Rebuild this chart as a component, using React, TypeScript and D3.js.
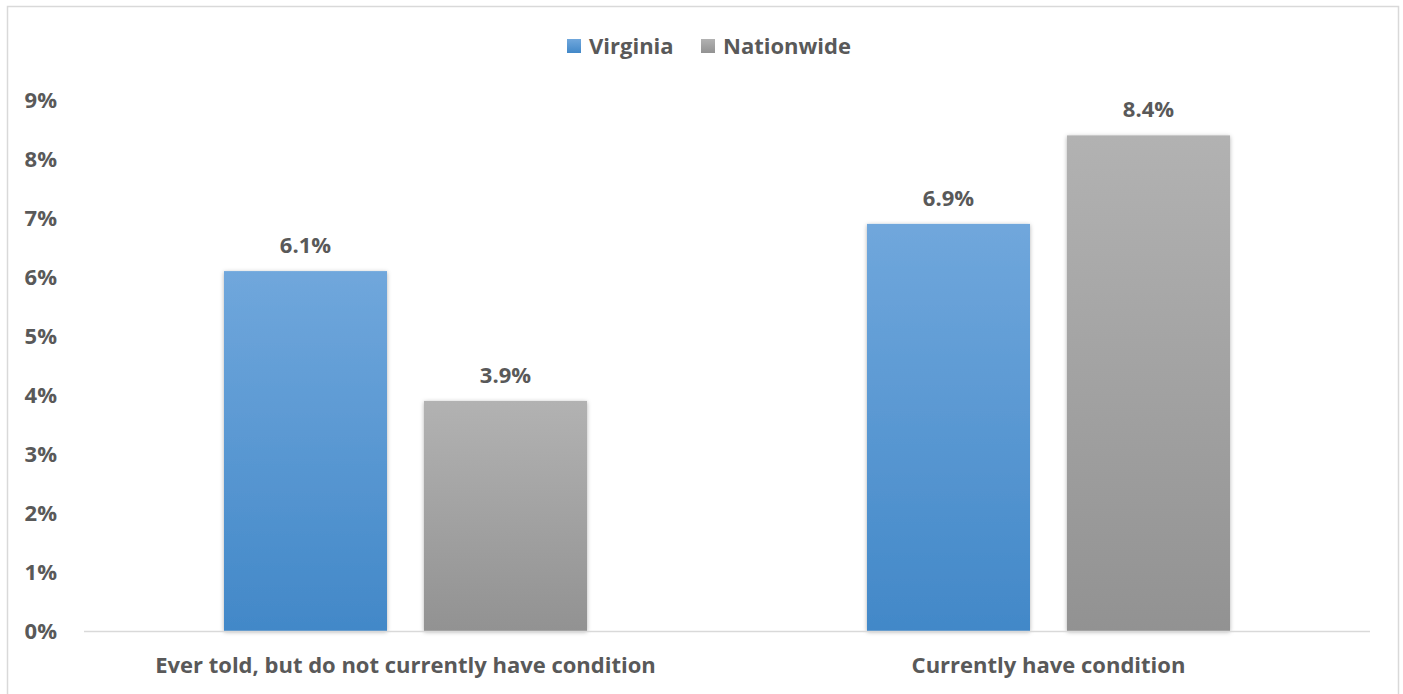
import React from "react";
import * as d3 from "d3";

const categories = ["Ever told, but do not currently have condition", "Currently have condition"];
const seriesNames = ["Virginia", "Nationwide"];
const virginia = [6.1, 6.9];
const nationwide = [3.9, 8.4];
const yTicks = [0, 1, 2, 3, 4, 5, 6, 7, 8, 9];

const W = 1403;
const H = 694;
const FONT = "'Open Sans', Lato, sans-serif";
const TEXT = "#595959";
const FS = 22;

export default function App() {
  const left = 84;
  const right = 1370;
  const top = 100;
  const bottom = 631;
  const x0 = d3.scaleBand<string>().domain(categories).range([left, right]).paddingInner(0).paddingOuter(0);
  const y = d3.scaleLinear().domain([0, 9]).range([bottom, top]);
  const groupW = 363;
  const x1 = d3.scaleBand<string>().domain(seriesNames).range([0, groupW]).paddingInner(37 / 200).paddingOuter(0);
  const values = [virginia, nationwide];
  const grads = ["gVa", "gNa"];

  return (
    <div style={{ position: "absolute", left: 0, top: 0 }}>
      <svg width={W} height={H} style={{ display: "block", background: "#fff" }}>
        <defs>
          <linearGradient id="gVa" x1="0" y1="0" x2="0" y2="1">
            <stop offset="0%" stopColor="#70a7dc" />
            <stop offset="100%" stopColor="#4288c8" />
          </linearGradient>
          <linearGradient id="gNa" x1="0" y1="0" x2="0" y2="1">
            <stop offset="0%" stopColor="#b2b2b2" />
            <stop offset="100%" stopColor="#929292" />
          </linearGradient>
          <filter id="sh" x="-10%" y="-10%" width="120%" height="120%">
            <feDropShadow dx="0" dy="1" stdDeviation="2" floodColor="#000" floodOpacity="0.3" />
          </filter>
        </defs>
        <rect x={7.5} y={6.5} width={1391} height={700} fill="#fff" stroke="#d9d9d9" strokeWidth={1.5} />

        {/* legend */}
        <g fontFamily={FONT} fontWeight={700} fontSize={FS} fill={TEXT}>
          <rect x={567} y={39} width={14} height={14} fill="url(#gVa)" />
          <text x={589} y={54}>{seriesNames[0]}</text>
          <rect x={701} y={39} width={14} height={14} fill="url(#gNa)" />
          <text x={723} y={54}>{seriesNames[1]}</text>
        </g>

        {/* y axis labels */}
        <g fontFamily={FONT} fontWeight={700} fontSize={FS} fill={TEXT}>
          {yTicks.map((t) => (
            <text key={t} x={57} y={y(t) + 8} textAnchor="end">
              {t}%
            </text>
          ))}
        </g>

        {/* bars */}
        {categories.map((c, ci) => {
          const gx = (x0(c) as number) + x0.bandwidth() / 2 - groupW / 2;
          return (
            <g key={c}>
              {seriesNames.map((s, si) => {
                const v = values[si][ci];
                const bx = gx + (x1(s) as number);
                return (
                  <g key={s}>
                    <rect
                      x={bx}
                      y={y(v)}
                      width={x1.bandwidth()}
                      height={y(0) - y(v)}
                      fill={`url(#${grads[si]})`}
                      filter="url(#sh)"
                    />
                    <text
                      x={bx + x1.bandwidth() / 2}
                      y={y(v) - 18}
                      textAnchor="middle"
                      fontFamily={FONT}
                      fontWeight={700}
                      fontSize={FS}
                      fill={TEXT}
                    >
                      {v.toFixed(1)}%
                    </text>
                  </g>
                );
              })}
            </g>
          );
        })}

        {/* x axis */}
        <line x1={left} x2={right} y1={bottom + 0.5} y2={bottom + 0.5} stroke="#d9d9d9" strokeWidth={1.5} />
        <g fontFamily={FONT} fontWeight={700} fontSize={FS} fill={TEXT}>
          {categories.map((c) => (
            <text key={c} x={(x0(c) as number) + x0.bandwidth() / 2} y={673} textAnchor="middle">
              {c}
            </text>
          ))}
        </g>
      </svg>
    </div>
  );
}
